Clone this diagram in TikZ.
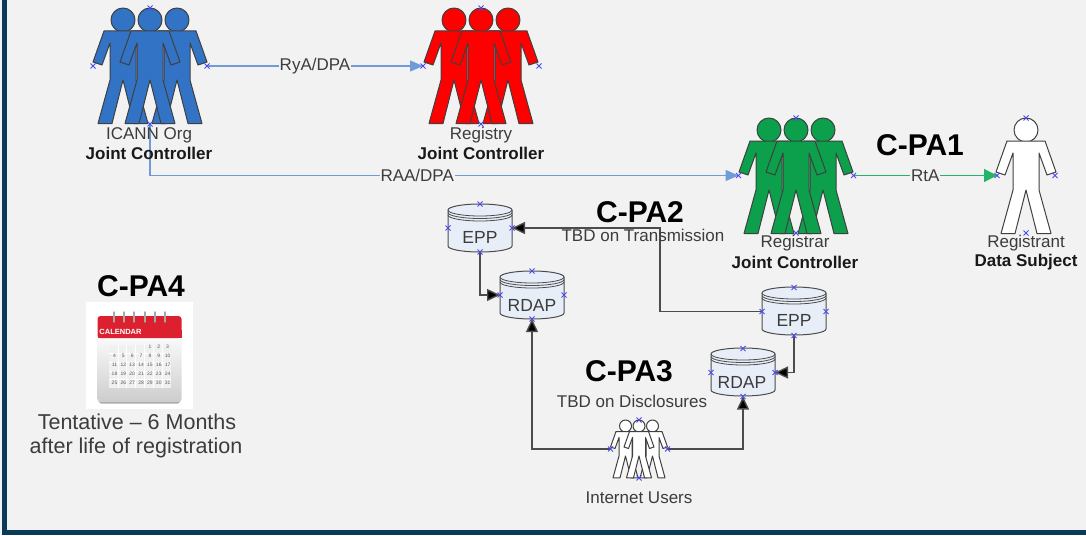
\documentclass[tikz,border=0pt]{standalone}
\usepackage{fontspec}
\setmainfont{Liberation Sans}
\usetikzlibrary{arrows.meta,calc}
\definecolor{bgc}{HTML}{F2F2F2}
\definecolor{band}{HTML}{0B3A58}
\definecolor{pblue}{HTML}{3273C6}
\definecolor{pred}{HTML}{FF0000}
\definecolor{pgreen}{HTML}{0C9F4C}
\definecolor{lblue}{HTML}{6F9BD8}
\definecolor{lgreen}{HTML}{22B566}
\definecolor{cylf}{HTML}{E8EEF7}
\definecolor{txt}{HTML}{3C3C3C}
\definecolor{mk}{HTML}{4A4AF0}
\definecolor{calred}{HTML}{DD2030}
\newcommand{\pxf}[1]{\fontsize{#1}{#1}\selectfont}
\tikzset{
  x=1pt,y=-1pt,
  anchorbox/.style={inner sep=0pt,outer sep=0pt,minimum width=#1},
  lab/.style={text=txt,inner sep=0pt,font=\pxf{17}},
  blab/.style={text=black!90,inner sep=0pt,font=\pxf{17}\bfseries},
  head/.style={text=black,inner sep=0pt,font=\pxf{30}\bfseries},
  conlab/.style={fill=bgc,text=txt,inner sep=1pt,font=\pxf{17}},
  bluecon/.style={draw=lblue,line width=1.3pt,-{Triangle[length=13pt,width=11pt,fill=lblue]}},
  greencon/.style={draw=lgreen,line width=1.3pt,-{Triangle[length=13pt,width=13pt,fill=lgreen]}},
  darkcon/.style={draw=black!70,line width=1.4pt,-{Triangle[length=13pt,width=12pt,fill=black]}},
  figline/.style={draw=black!75,line width=1pt,line join=round},
  pics/onefig/.style={code={
    \path[figline,fill=#1] (0,12) circle[radius=12];
    \path[figline,fill=#1] (-19,23) -- (-30,54) -- (-21,57) -- (-13,35) -- (-13,72) -- (-25,115.5) -- (-11,115.5)
       -- (0,72) -- (11,115.5) -- (25,115.5) -- (13,72) -- (13,35) -- (21,57) -- (30,54) -- (19,23) -- cycle;
  }},
  pics/trio/.style={code={
    \pic at (-27,0) {onefig=#1};
    \pic at (27,0) {onefig=#1};
    \pic at (0,0) {onefig=#1};
  }},
  pics/cyl/.style={code={
    % origin at top centre; 64 wide, 48 high
    \path[draw=black!70,line width=1pt,fill=cylf] (-32,6) -- (-32,42) arc[x radius=32,y radius=6,start angle=180,end angle=0] -- (32,6)
       arc[x radius=32,y radius=6,start angle=0,end angle=-180] -- cycle;
    \draw[black!70,line width=.8pt] (-32,6) arc[x radius=32,y radius=6,start angle=180,end angle=0];
    \draw[black!70,line width=.8pt] (-32,8.5) arc[x radius=32,y radius=6,start angle=180,end angle=0];
    \draw[black!70,line width=.8pt] (-32,11) arc[x radius=32,y radius=6,start angle=180,end angle=0];
  }},
}
\newcommand{\mkx}[1]{\draw[mk,line width=.9pt] ($#1+(-2.5,-2.5)$) -- ($#1+(2.5,2.5)$) ($#1+(-2.5,2.5)$) -- ($#1+(2.5,-2.5)$);}
\newcommand{\mkall}[1]{\mkx{(#1.north)}\mkx{(#1.south)}\mkx{(#1.east)}\mkx{(#1.west)}}
\begin{document}
\begin{tikzpicture}
\useasboundingbox (0,0) rectangle (1086,535);
\fill[bgc] (0,0) rectangle (1086,535);
\fill[band] (2,0) rectangle (7,535);
\fill[band] (2,530) rectangle (1086,535);

% figures
\pic at (150,8) {trio=pblue};
\pic at (481,8) {trio=pred};
\pic at (796,118) {trio=pgreen};
\pic at (1026,118) {onefig=white};
\pic[scale=.5] at (652.5,420) {onefig=white};
\pic[scale=.5] at (625.5,420) {onefig=white};
\pic[scale=.5] at (639,420) {onefig=white};

% anchor boxes
\node[anchorbox=114pt,minimum height=116pt] (icann) at (150,66) {};
\node[anchorbox=116pt,minimum height=116pt] (registry) at (481,66) {};
\node[anchorbox=115pt,minimum height=115pt] (registrar) at (796,175.5) {};
\node[anchorbox=58pt,minimum height=115pt] (registrant) at (1026,175.5) {};
\node[anchorbox=57pt,minimum height=58pt] (users) at (639,449) {};

% cylinders
\pic at (480,204) {cyl};
\pic at (532,271) {cyl};
\pic at (794,287) {cyl};
\pic at (743,348) {cyl};
\node[anchorbox=64pt,minimum height=48pt] (epp1) at (480,228) {};
\node[anchorbox=64pt,minimum height=48pt] (rdap1) at (532,295) {};
\node[anchorbox=64pt,minimum height=48pt] (epp2) at (794,311.5) {};
\node[anchorbox=64pt,minimum height=48pt] (rdap2) at (743,372.5) {};
\node[lab,font=\pxf{17.5}] (e1t) at (480,237) {EPP};
\node[lab,font=\pxf{17.5}] (r1t) at (532,305) {RDAP};
\node[lab,font=\pxf{17.5}] (e2t) at (794,320) {EPP};
\node[lab,font=\pxf{17.5}] (r2t) at (742,382) {RDAP};

% connectors
\draw[bluecon] (icann.east) -- (registry.west) node[conlab,pos=.5] (rya) {RyA/DPA};
\draw[bluecon] (icann.south) |- (registrar.west) node[conlab,pos=.727] (raa) {RAA/DPA};
\draw[greencon] (registrar.east) -- (registrant.west) node[conlab,pos=.5] (rta) {RtA};
\draw[darkcon] (epp1.south) |- (rdap1.west);
\draw[darkcon] (epp2.west) -- ++(-102,0) |- (epp1.east);
\draw[darkcon] (epp2.south) |- (rdap2.east);
\draw[darkcon] (users.west) -| (rdap1.south);
\draw[darkcon] (users.east) -| (rdap2.south);

% markers
\mkall{icann}\mkall{registry}\mkall{registrar}\mkall{registrant}\mkall{users}
\mkall{epp1}\mkall{rdap1}\mkall{epp2}\mkall{rdap2}

% labels
\node[lab] (t1) at (149,135.5) {ICANN Org};
\node[blab] (t2) at (149,153.5) {Joint Controller};
\node[lab] (t3) at (481,135) {Registry};
\node[blab] (t4) at (481,153.5) {Joint Controller};
\node[lab] (t5) at (795,243) {Registrar};
\node[blab] (t6) at (795,262.5) {Joint Controller};
\node[lab] (t7) at (1026,243) {Registrant};
\node[blab] (t8) at (1026,262.5) {Data Subject};
\node[lab] (t9) at (639,497.5) {Internet Users};
\node[head] (pa1) at (920,145) {C-PA1};
\node[head] (pa2) at (640,212.5) {C-PA2};
\node[lab] (tr) at (643,235) {TBD on Transmission};
\node[head] (pa3) at (629,371) {C-PA3};
\node[lab] (dis) at (632,401) {TBD on Disclosures};
\node[head] (pa4) at (141,286) {C-PA4};
\node[lab,font=\pxf{21.5}] (ten) at (137,422) {Tentative – 6 Months};
\node[lab,font=\pxf{21.5}] (aft) at (136,448) {after life of registration};

% calendar
\fill[white] (86,302) rectangle (193,409);
\shade[top color=white,bottom color=black!20,rounded corners=4pt] (97.5,330) rectangle (181.5,403);
\fill[black!32] (99,402) -- (180,402) -- (178,403.5) -- (101,403.5) -- cycle;
\fill[calred,rounded corners=3pt] (97.5,316) -- (181.5,316) -- (181.5,338) -- (97.5,338) -- cycle;
\fill[calred] (97.5,330) rectangle (181.5,338);
\foreach \rx in {114,124,134,145,155,165}
  \draw[black!35,line width=1.4pt,line cap=round] (\rx,312) -- (\rx,322);
\node[inner sep=0pt,text=white,font=\pxf{7.5}\bfseries] (calt) at (120.5,332) {CALENDAR};
\fill[white!94!black] (109,345) rectangle (171,388);
\foreach \i in {1,...,6} \draw[white,line width=.6pt] ({109+\i*8.85},345) -- ({109+\i*8.85},388);
\foreach \j in {1,...,4} \draw[white,line width=.6pt] (109,{345+\j*8.6}) -- (171,{345+\j*8.6});
\foreach \n in {1,...,31}{
  \pgfmathtruncatemacro{\cc}{mod(\n+3,7)}
  \pgfmathtruncatemacro{\rr}{int((\n+3)/7)}
  \node[inner sep=0pt,text=black!65,font=\pxf{5}] at ({114.5+\cc*8.85},{\rr*9+347}) {\n};
}
\end{tikzpicture}
\end{document}
